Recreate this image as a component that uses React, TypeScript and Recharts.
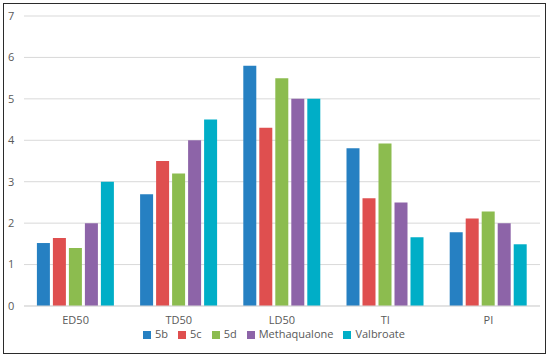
import React from "react";
import { BarChart, Bar, XAxis, YAxis, CartesianGrid, Legend } from "recharts";

const categories = ["ED50", "TD50", "LD50", "TI", "PI"];
const s5b = [1.52, 2.7, 5.8, 3.81, 1.78];
const s5c = [1.64, 3.5, 4.3, 2.6, 2.11];
const s5d = [1.4, 3.2, 5.5, 3.92, 2.28];
const methaqualone = [2.0, 4.0, 5.0, 2.5, 2.0];
const valbroate = [3.0, 4.5, 5.0, 1.66, 1.49];
const yTicks = [0, 1, 2, 3, 4, 5, 6, 7];

const data = categories.map((c, i) => ({
  name: c,
  "5b": s5b[i],
  "5c": s5c[i],
  "5d": s5d[i],
  Methaqualone: methaqualone[i],
  Valbroate: valbroate[i],
}));

const series = [
  { key: "5b", color: "#2680c2" },
  { key: "5c", color: "#df4f4f" },
  { key: "5d", color: "#8cbc4f" },
  { key: "Methaqualone", color: "#8d64a8" },
  { key: "Valbroate", color: "#00aec7" },
];

const font = "'Open Sans', sans-serif";

export default function App() {
  return (
    <div style={{ position: "absolute", left: 0, top: 0, width: 550, height: 358, background: "#fff" }}>
      <div
        style={{
          position: "absolute",
          left: 3,
          top: 3,
          width: 543,
          height: 351,
          border: "1.5px solid #2b2b2b",
          boxSizing: "border-box",
        }}
      />
      <div style={{ position: "absolute", left: 0, top: 0 }}>
        <BarChart
          width={550}
          height={358}
          data={data}
          margin={{ top: 16, right: 10, left: 0, bottom: 32 }}
          barCategoryGap="12.5%"
          barGap={3}
          style={{ fontFamily: font }}
        >
          <CartesianGrid vertical={false} stroke="#d9d9d9" />
          <XAxis
            dataKey="name"
            height={20}
            tickLine={false}
            tickSize={0}
            tickMargin={10}
            axisLine={{ stroke: "#d9d9d9" }}
            tick={{ fill: "#595959", fontSize: 11, fontFamily: font }}
          />
          <YAxis
            width={24}
            domain={[0, 7]}
            ticks={yTicks}
            tickLine={false}
            tickSize={0}
            axisLine={false}
            tick={{ fill: "#595959", fontSize: 11, fontFamily: font, textAnchor: "start", dx: -14 }}
          />
          <Legend
            verticalAlign="middle"
            align="center"
            iconType="square"
            iconSize={8}
            wrapperStyle={{ top: 328, left: 4, width: 550, fontSize: 11, lineHeight: "12px", fontFamily: font }}
            formatter={(v: string) => <span style={{ color: "#595959" }}>{v}</span>}
          />
          {series.map((s) => (
            <Bar key={s.key} dataKey={s.key} fill={s.color} isAnimationActive={false} />
          ))}
        </BarChart>
      </div>
    </div>
  );
}
